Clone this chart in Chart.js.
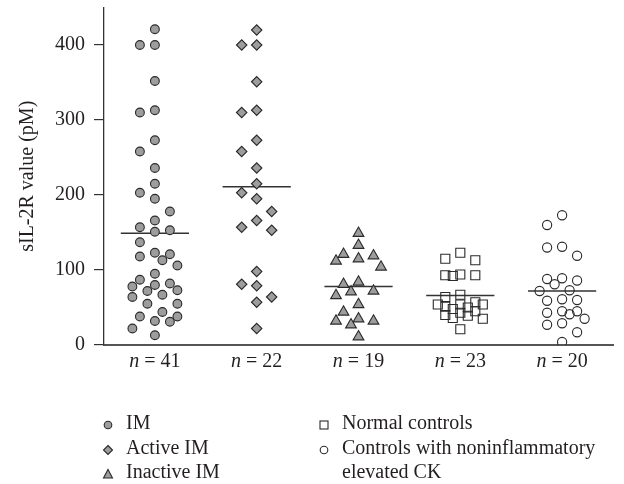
<!DOCTYPE html>
<html>
<head>
<meta charset="utf-8">
<script src="https://cdn.jsdelivr.net/npm/chart.js@4.4.1/dist/chart.umd.min.js"></script>
<style>
  html, body { margin: 0; padding: 0; background: #fff; }
  #wrap { position: relative; width: 624px; height: 484px; }
  #c { position: absolute; left: 0; top: 0; }
  .lg { position: absolute; font: 20px "Liberation Serif", serif; color: #231f20; line-height: 24px; width: 290px; }
  .mk { position: absolute; }
</style>
</head>
<body>
<div id="wrap">
  <canvas id="c" width="624" height="484"></canvas>
  <div id="legend"></div>
</div>
<script>
/* ---- data ---- */
const groupNames = ["IM", "Active IM", "Inactive IM", "Normal controls", "Controls with noninflammatory elevated CK"];
const groupN = [41, 22, 19, 23, 20];

const imValues = [421, 400, 400, 352, 313, 310, 273, 258, 236, 215, 203, 195, 178, 166, 157, 153, 151,
  137, 123, 121, 118, 113, 106, 95, 87, 82, 80, 78, 73, 72, 67, 64, 55, 55, 44, 38, 38, 32, 31, 22, 13];
const activeValues = [420, 400, 400, 351, 313, 310, 273, 258, 236, 215, 203, 195, 178, 166, 157, 153,
  98, 81, 79, 64, 57, 22];
const inactiveValues = [149, 133, 121, 119, 115, 112, 104, 84, 81, 72, 71, 66, 54, 44, 35, 32, 32, 27, 11];
const normalValues = [123, 115, 113, 94, 93, 93, 92, 67, 64, 57, 54, 54, 54, 51, 50, 48, 45, 43, 40, 39, 36, 35, 21];
const ckValues = [173, 160, 131, 130, 119, 89, 88, 86, 81, 73, 72, 61, 60, 59, 45, 45, 43, 41, 35, 29, 27, 17, 4];

const meanValues = [149, 211, 78, 66, 72];
const yTicks = [0, 100, 200, 300, 400];

/* ---- look ---- */
const TEXT = "#231f20";
const FONT = '"Liberation Serif", serif';
const GRAY = "#9d9d9d";
const EDGE = "#2a2a2a";

// points of one group are spread side by side so they do not overlap
const PX_PER_UNIT_Y = 340 / 450;
const PX_PER_GROUP = 509 / 5;
const SLOT_TIERS = [[0], [-15, 15], [-7.5, 7.5], [-22.5, 22.5]];

function swarm(values, center, gap){
  const placed = [];
  const order = values.map((_, i) => i).sort((a, b) => values[b] - values[a]);
  const pts = [];
  const room = (dx, py) => placed.reduce((m, p) => Math.min(m, Math.hypot(p.dx - dx, p.py - py)), Infinity);
  order.forEach(i => {
    const py = values[i] * PX_PER_UNIT_Y;
    let pick = null, fallback = 0, fallbackD = -1;
    for (const tier of SLOT_TIERS){
      let tierBest = null, tierD = -1;
      tier.forEach(dx => {
        const d = room(dx, py);
        if (d >= gap && d > tierD){ tierBest = dx; tierD = d; }
        if (d > fallbackD){ fallback = dx; fallbackD = d; }
      });
      if (tierBest !== null){ pick = tierBest; break; }
    }
    if (pick === null) pick = fallback;
    placed.push({dx: pick, py});
    pts.push({x: center + pick / PX_PER_GROUP, y: values[i]});
  });
  return pts;
}

const groups = [
  { values: imValues,       style: "circle",   r: 4.4, fill: GRAY,          gap: 13 },
  { values: activeValues,   style: "rectRot",  r: 5.2, fill: GRAY,          gap: 13 },
  { values: inactiveValues, style: "triangle", r: 6.2, fill: GRAY,          gap: 12 },
  { values: normalValues,   style: "rect",     r: 6.4, fill: "transparent", gap: 8 },
  { values: ckValues,       style: "circle",   r: 4.6, fill: "transparent", gap: 11 }
];

const datasets = [];
groups.forEach((g, i) => {
  const c = i + 1;
  datasets.push({
    type: "line",
    data: [{x: c - 0.335, y: meanValues[i]}, {x: c + 0.335, y: meanValues[i]}],
    borderColor: "#333",
    borderWidth: 1.5,
    pointRadius: 0,
    order: 2
  });
  datasets.push({
    type: "scatter",
    data: swarm(g.values, c, g.gap),
    pointStyle: g.style,
    pointRadius: g.r,
    backgroundColor: g.fill,
    borderColor: EDGE,
    borderWidth: 1.1,
    order: 1
  });
});

/* x labels "n = 41" with italic n */
const nLabels = {
  id: "nLabels",
  afterDraw(chart){
    const {ctx, scales: {x}} = chart;
    ctx.save();
    ctx.fillStyle = TEXT;
    groupN.forEach((n, i) => {
      const cx = x.getPixelForValue(i + 1);
      const a = "n", b = " = " + n;
      ctx.font = "italic 20px " + FONT;
      const wa = ctx.measureText(a).width;
      ctx.font = "20px " + FONT;
      const wb = ctx.measureText(b).width;
      const left = cx - (wa + wb) / 2;
      ctx.font = "italic 20px " + FONT;
      ctx.fillText(a, left, 367);
      ctx.font = "20px " + FONT;
      ctx.fillText(b, left + wa, 367);
    });
    ctx.restore();
  }
};

new Chart(document.getElementById("c"), {
  data: { datasets },
  options: {
    responsive: false,
    animation: false,
    events: [],
    layout: { padding: { top: 4, right: 11, left: 0, bottom: 0 } },
    plugins: { legend: { display: false }, tooltip: { enabled: false } },
    scales: {
      x: {
        type: "linear",
        min: 0.5,
        max: 5.5,
        grid: { display: false },
        ticks: { display: false },
        border: { display: true, color: "#555", width: 2 },
        afterFit: s => { s.height = 139; }
      },
      y: {
        type: "linear",
        min: 0,
        max: 450,
        afterBuildTicks: s => { s.ticks = yTicks.map(v => ({value: v})); },
        ticks: { color: TEXT, font: { family: FONT, size: 20 }, padding: 9 },
        grid: { drawOnChartArea: false, drawTicks: true, tickLength: 10, color: "#333", lineWidth: 1.2 },
        border: { display: true, color: "#333", width: 1.3 },
        title: { display: true, text: "sIL-2R value (pM)", color: TEXT, font: { family: FONT, size: 20 }, padding: { top: 16, bottom: 0 } },
        afterFit: s => { s.width = 104; s.paddingTop = 0; s.paddingBottom = 0; }
      }
    }
  },
  plugins: [nLabels]
});

/* legend (two columns, below the plot) */
function marker(shape, filled){
  const f = filled ? GRAY : "none";
  const st = 'stroke="' + EDGE + '" stroke-width="1.1" fill="' + f + '"';
  let body = "";
  if (shape === "circle") body = '<circle cx="6" cy="6" r="3.8" ' + st + '/>';
  if (shape === "rectRot") body = '<polygon points="6,1.5 10.5,6 6,10.5 1.5,6" ' + st + '/>';
  if (shape === "triangle") body = '<polygon points="6,1.5 10.5,10 1.5,10" ' + st + '/>';
  if (shape === "rect") body = '<rect x="2" y="2" width="8" height="8" ' + st + '/>';
  return '<svg width="12" height="12">' + body + '</svg>';
}

const legendItems = [
  { col: 0, row: 0, shape: "circle",   filled: true,  text: groupNames[0] },
  { col: 0, row: 1, shape: "rectRot",  filled: true,  text: groupNames[1] },
  { col: 0, row: 2, shape: "triangle", filled: true,  text: groupNames[2] },
  { col: 1, row: 0, shape: "rect",     filled: false, text: groupNames[3] },
  { col: 1, row: 1, shape: "circle",   filled: false, text: groupNames[4] }
];
const colX = [108, 324];
const rowY = [423, 447.5, 472];
const legend = document.getElementById("legend");
legendItems.forEach(it => {
  const m = document.createElement("div");
  m.className = "mk";
  m.style.left = (colX[it.col] - 6) + "px";
  m.style.top = (rowY[it.row] - 6) + "px";
  m.innerHTML = marker(it.shape, it.filled);
  legend.appendChild(m);
  const t = document.createElement("div");
  t.className = "lg";
  t.style.left = (colX[it.col] + 18) + "px";
  t.style.top = (rowY[it.row] - 13) + "px";
  t.textContent = it.text;
  legend.appendChild(t);
});
</script>
</body>
</html>
